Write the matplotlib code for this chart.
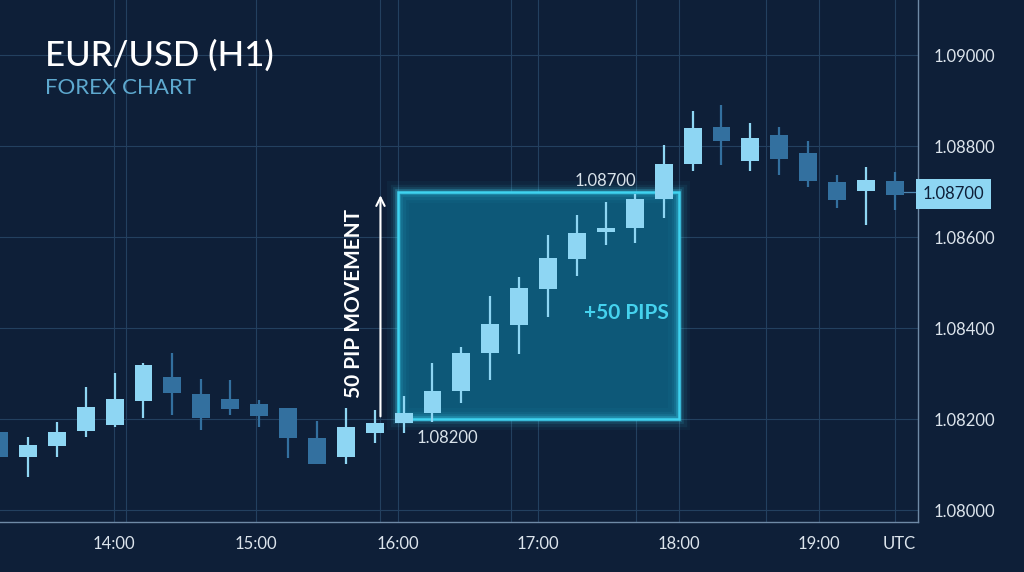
import numpy as np
import matplotlib.pyplot as plt
from matplotlib.patches import Rectangle

# OHLC values (one candle per slot)
opens = [1.08171, 1.08116, 1.08141, 1.08174, 1.08187, 1.08240, 1.08292, 1.08255,
         1.08244, 1.08233, 1.08224, 1.08158, 1.08116, 1.08169, 1.08191, 1.08213,
         1.08262, 1.08345, 1.08407, 1.08486, 1.08552, 1.08611, 1.08620, 1.08684,
         1.08760, 1.08842, 1.08767, 1.08824, 1.08785, 1.08721, 1.08701, 1.08723]
closes = [1.08116, 1.08143, 1.08171, 1.08226, 1.08244, 1.08319, 1.08257, 1.08202,
          1.08222, 1.08207, 1.08158, 1.08101, 1.08182, 1.08191, 1.08213, 1.08262,
          1.08345, 1.08409, 1.08488, 1.08554, 1.08609, 1.08620, 1.08684, 1.08760,
          1.08840, 1.08811, 1.08818, 1.08771, 1.08723, 1.08681, 1.08725, 1.08692]
highs = [1.08175, 1.08160, 1.08193, 1.08270, 1.08301, 1.08323, 1.08345, 1.08288,
         1.08286, 1.08242, 1.08224, 1.08196, 1.08224, 1.08220, 1.08251, 1.08323,
         1.08358, 1.08470, 1.08512, 1.08604, 1.08648, 1.08677, 1.08695, 1.08802,
         1.08877, 1.08890, 1.08851, 1.08842, 1.08811, 1.08736, 1.08754, 1.08743]
lows = [1.08110, 1.08073, 1.08116, 1.08160, 1.08182, 1.08202, 1.08209, 1.08176,
        1.08209, 1.08182, 1.08114, 1.08101, 1.08101, 1.08147, 1.08169, 1.08193,
        1.08235, 1.08286, 1.08343, 1.08424, 1.08514, 1.08582, 1.08587, 1.08642,
        1.08745, 1.08758, 1.08745, 1.08736, 1.08710, 1.08664, 1.08626, 1.08659]

time_labels = ['14:00', '15:00', '16:00', '17:00', '18:00', '19:00']
price_ticks = [1.080, 1.082, 1.084, 1.086, 1.088, 1.090]
move_start = 1.08200
move_end = 1.08700
last_price = 1.08700

bg = '#0e1f38'
light = '#8ed6f3'
dark = '#33709f'
cyan = '#3fd3f0'

fig = plt.figure(figsize=(10.24, 5.72), dpi=100, facecolor=bg)
ax = fig.add_axes([0, 50 / 572, 918 / 1024, 522 / 572])
ax.set_facecolor(bg)

x = np.arange(len(opens))
ax.set_xlim(0.035, 31.8)
ax.set_ylim(1.07974, 1.09121)

# grid
hour_pos = [3.98, 8.9, 13.8, 18.65, 23.53, 28.37]
extra_pos = [4.4, 13.2, 17.7, 22.05, 26.55, 31.0]
for p in hour_pos + extra_pos:
    ax.axvline(p, color='#23405f', lw=0.8, zorder=0)
for p in price_ticks:
    ax.axhline(p, color='#23405f', lw=0.8, zorder=0)

# move box with glow
x0, x1 = 13.8, 23.53
ax.add_patch(Rectangle((x0, move_start), x1 - x0, move_end - move_start,
                       facecolor='#0d5878', edgecolor='none', zorder=1))
for lw, a in [(16, 0.04), (11, 0.07), (7, 0.12), (4, 0.28)]:
    ax.add_patch(Rectangle((x0, move_start), x1 - x0, move_end - move_start,
                           facecolor='none', edgecolor=cyan, lw=lw, alpha=a, zorder=2))
ax.add_patch(Rectangle((x0, move_start), x1 - x0, move_end - move_start,
                       facecolor='none', edgecolor=cyan, lw=1.8, zorder=2))

# candles
w = 0.62
for i in x:
    up = closes[i] >= opens[i]
    c = light if up else dark
    ax.vlines(i, lows[i], highs[i], color=c, lw=1.6, zorder=3)
    lo, hi = min(opens[i], closes[i]), max(opens[i], closes[i])
    ax.add_patch(Rectangle((i - w / 2, lo), w, max(hi - lo, 0.00004),
                           facecolor=c, edgecolor='none', zorder=4))

# last price line + tag
ax.plot([x[-1], 31.8], [last_price, last_price], color='#4f86b0', lw=0.9, zorder=2)
ax.text(1.005, last_price - 0.00005, '1.08700', transform=ax.get_yaxis_transform(),
        va='center', ha='left', fontsize=12, color='#0e1f38', family='Lato',
        bbox=dict(boxstyle='square,pad=0.4', facecolor=light, edgecolor='none'),
        clip_on=False, zorder=6)

# arrow and labels
ax.annotate('', xy=(13.2, move_end - 0.00002), xytext=(13.2, move_start),
            arrowprops=dict(arrowstyle='->,head_length=0.6,head_width=0.3',
                            color='white', lw=1.5), zorder=5)
ax.text(12.3, (move_start + move_end) / 2 + 0.00005, '50 PIP MOVEMENT', rotation=90,
        ha='center', va='center', fontsize=15, fontweight='bold', color='white',
        family='Lato')
ax.text(21.7, 1.08433, '+50 PIPS', ha='center', va='center', fontsize=15,
        fontweight='bold', color='#45d2ee', family='Lato')
ax.text(21.0, 1.08723, '1.08700', ha='center', va='center', fontsize=12,
        color='#d8e2ea', family='Lato')
ax.text(15.52, 1.08158, '1.08200', ha='center', va='center', fontsize=12,
        color='#d8e2ea', family='Lato')

# axes styling
for s in ['top', 'left']:
    ax.spines[s].set_visible(False)
for s in ['right', 'bottom']:
    ax.spines[s].set_color('#6f8aa6')
    ax.spines[s].set_linewidth(1.0)
ax.yaxis.tick_right()
ax.set_yticks(price_ticks)
ax.set_yticklabels(['%.5f' % p for p in price_ticks])
ax.set_xticks(hour_pos + [31.14])
ax.set_xticklabels(time_labels + ['UTC'])
ax.tick_params(axis='y', length=0, pad=11, labelsize=12, labelcolor='#dce4ec')
ax.tick_params(axis='x', length=0, pad=10, labelsize=12, labelcolor='#dce4ec')
for lab in ax.get_xticklabels() + ax.get_yticklabels():
    lab.set_family('Lato')

fig.text(45 / 1024, 1 - 56 / 572, 'EUR/USD (H1)', fontsize=25, color='white',
         family='Lato', fontweight='medium', va='center', ha='left')
fig.text(45 / 1024, 1 - 88 / 572, 'FOREX CHART', fontsize=16, color='#5ea9cf',
         family='Lato', va='center', ha='left')

fig.savefig('out.png', dpi=100, facecolor=bg)
